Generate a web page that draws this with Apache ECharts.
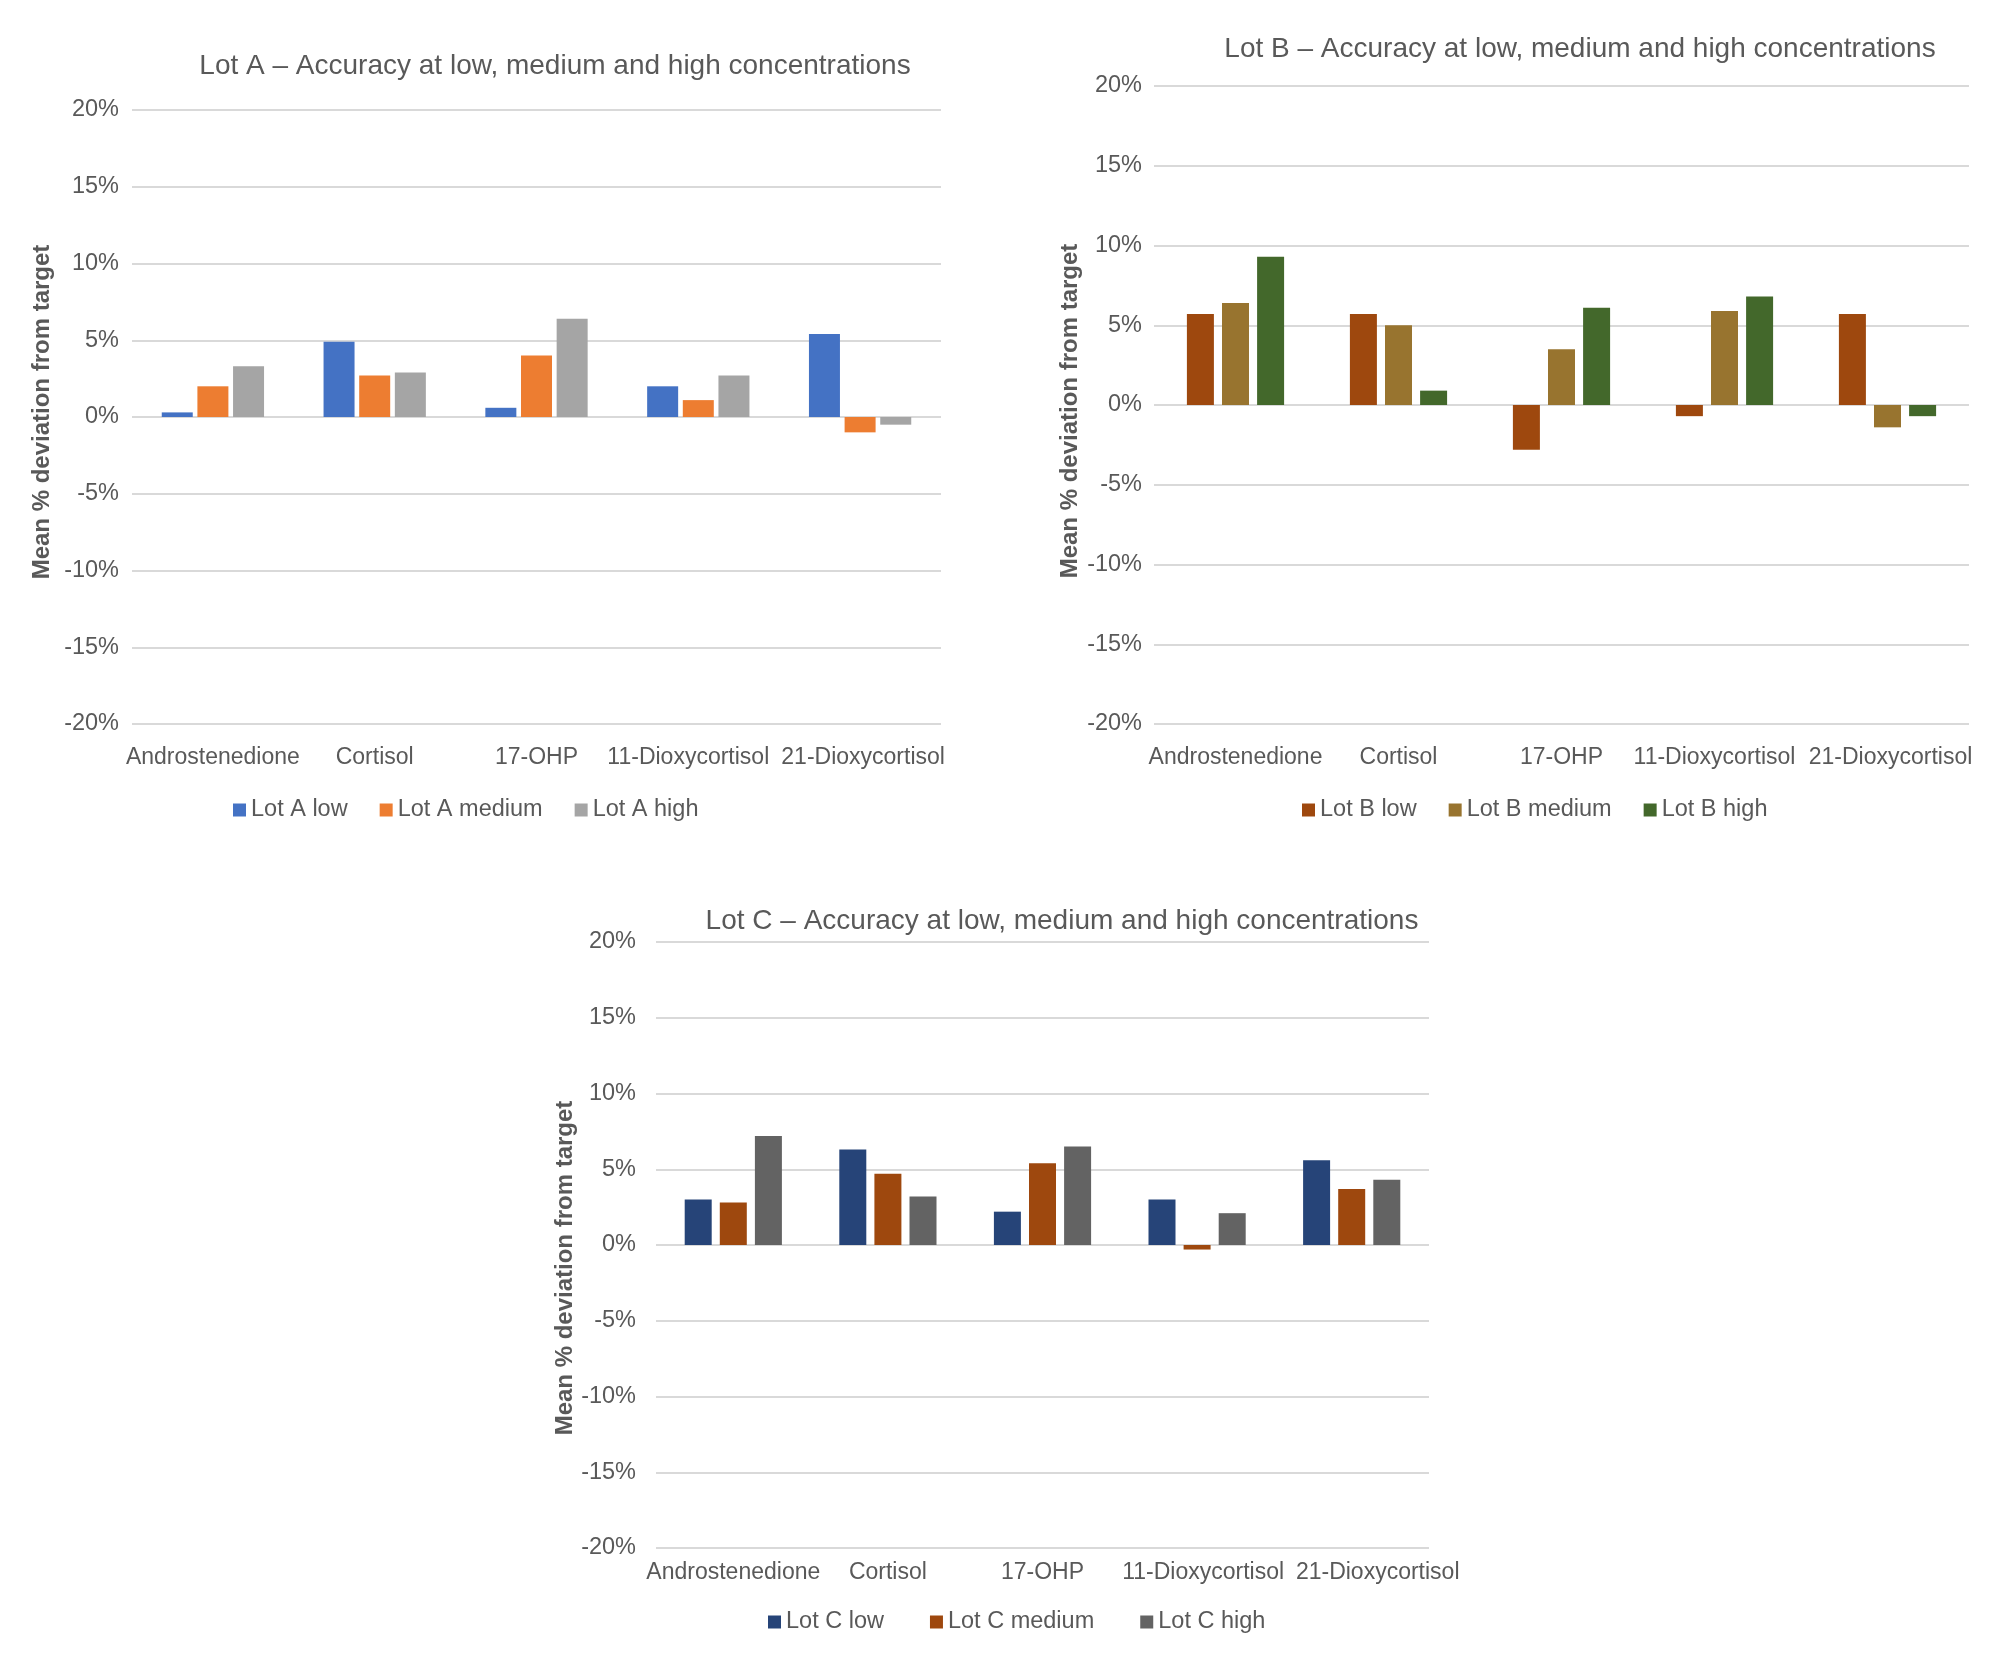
<!DOCTYPE html>
<html>
<head>
<meta charset="utf-8">
<title>Lot accuracy</title>
<script src="https://cdn.jsdelivr.net/npm/echarts@6/dist/echarts.min.js"></script>
<style>
    html, body { margin: 0; padding: 0; background: #fff; }
    #chart { width: 2000px; height: 1670px; }
</style>
</head>
<body>
<div id="chart"></div>
<script>
// 数据
const categories = ['Androstenedione', 'Cortisol', '17-OHP', '11-Dioxycortisol', '21-Dioxycortisol'];
const yTicks = [-20, -15, -10, -5, 0, 5, 10, 15, 20];

const lotALow = [0.3, 4.9, 0.6, 2.0, 5.4];
const lotAMedium = [2.0, 2.7, 4.0, 1.1, -1.0];
const lotAHigh = [3.3, 2.9, 6.4, 2.7, -0.5];

const lotBLow = [5.7, 5.7, -2.8, -0.7, 5.7];
const lotBMedium = [6.4, 5.0, 3.5, 5.9, -1.4];
const lotBHigh = [9.3, 0.9, 6.1, 6.8, -0.7];

const lotCLow = [3.0, 6.3, 2.2, 3.0, 5.6];
const lotCMedium = [2.8, 4.7, 5.4, -0.3, 3.7];
const lotCHigh = [7.2, 3.2, 6.5, 2.1, 4.3];

// 颜色
const colors = {
    aLow: '#4472C4', aMed: '#ED7D31', aHigh: '#A5A5A5',
    bLow: '#9E480E', bMed: '#98742F', bHigh: '#43682B',
    cLow: '#264478', cMed: '#9E480E', cHigh: '#636363'
};

const textColor = '#595959';
const font = '"Liberation Sans", Arial, sans-serif';

// 每个面板的布局
const panels = [
    {
        title: 'Lot A \u2013 Accuracy at low, medium and high concentrations',
        titleX: 550, titleY: 47,
        grid: { left: 132, top: 110, width: 809, height: 614 },
        legendX: 228, legendY: 793, legendGap: 32,
        labelMargin: 22, yLabelMargin: 13, nameGap: 78, namePad: [0, 0, 0, 10],
        labelShift: [0, 0, 0, -10, 3],
        barWidth: 31, barGap: '15%',
        series: [
            { name: 'Lot A low', data: lotALow, color: colors.aLow },
            { name: 'Lot A medium', data: lotAMedium, color: colors.aMed },
            { name: 'Lot A high', data: lotAHigh, color: colors.aHigh }
        ]
    },
    {
        title: 'Lot B \u2013 Accuracy at low, medium and high concentrations',
        titleX: 1575, titleY: 30,
        grid: { left: 1154, top: 86, width: 815, height: 638 },
        legendX: 1297, legendY: 793, legendGap: 32,
        labelMargin: 22, yLabelMargin: 12, nameGap: 72, namePad: [0, 12, 0, 0],
        labelShift: [0, 0, 0, -10, 3],
        barWidth: 27, barGap: '30%',
        series: [
            { name: 'Lot B low', data: lotBLow, color: colors.bLow },
            { name: 'Lot B medium', data: lotBMedium, color: colors.bMed },
            { name: 'Lot B high', data: lotBHigh, color: colors.bHigh }
        ]
    },
    {
        title: 'Lot C \u2013 Accuracy at low, medium and high concentrations',
        titleX: 1057, titleY: 902,
        grid: { left: 656, top: 942, width: 773, height: 606 },
        legendX: 763, legendY: 1605, legendGap: 46,
        labelMargin: 13, yLabelMargin: 20, nameGap: 75, namePad: [0, 46, 0, 0],
        labelShift: [0, 0, 0, 6, 26],
        barWidth: 27, barGap: '30%',
        series: [
            { name: 'Lot C low', data: lotCLow, color: colors.cLow },
            { name: 'Lot C medium', data: lotCMedium, color: colors.cMed },
            { name: 'Lot C high', data: lotCHigh, color: colors.cHigh }
        ]
    }
];

const chart = echarts.init(document.getElementById('chart'));

const option = {
    backgroundColor: '#fff',
    animation: false,
    textStyle: { fontFamily: font, color: textColor },
    title: [],
    legend: [],
    grid: [],
    xAxis: [],
    yAxis: [],
    series: []
};

panels.forEach((p, i) => {
    option.title.push({
        text: p.title,
        left: p.titleX,
        top: p.titleY,
        textAlign: 'center',
        textStyle: { fontFamily: font, fontSize: 28, fontWeight: 'normal', color: textColor }
    });

    option.grid.push(Object.assign({ containLabel: false }, p.grid));

    // 长标签左右挪开，避免重叠（同 Excel 的排法）
    const catData = categories.map((c, k) => {
        const s = p.labelShift[k];
        if (!s) return c;
        const pad = s > 0 ? [0, 0, 0, s * 2] : [0, -s * 2, 0, 0];
        return { value: c, textStyle: { padding: pad } };
    });

    option.xAxis.push({
        type: 'category',
        gridIndex: i,
        data: catData,
        axisLine: { show: false, onZero: false },
        axisTick: { show: false },
        axisLabel: { color: textColor, fontSize: 23, margin: p.labelMargin, fontFamily: font, interval: 0 }
    });

    option.yAxis.push({
        type: 'value',
        gridIndex: i,
        min: yTicks[0],
        max: yTicks[yTicks.length - 1],
        interval: 5,
        name: 'Mean % deviation from target',
        nameLocation: 'middle',
        nameGap: p.nameGap,
        nameTextStyle: { fontFamily: font, fontSize: 24, fontWeight: 'bold', color: textColor, padding: p.namePad },
        axisLine: { show: false },
        axisTick: { show: false },
        splitLine: { lineStyle: { color: '#D9D9D9', width: 2 } },
        axisLabel: { color: textColor, fontSize: 23.5, margin: p.yLabelMargin, fontFamily: font, formatter: '{value}%' }
    });

    option.legend.push({
        left: p.legendX,
        top: p.legendY,
        itemWidth: 13,
        itemHeight: 13,
        itemGap: p.legendGap,
        icon: 'rect',
        data: p.series.map(s => s.name),
        textStyle: { fontFamily: font, fontSize: 23.5, color: textColor }
    });

    p.series.forEach(s => {
        option.series.push({
            name: s.name,
            type: 'bar',
            xAxisIndex: i,
            yAxisIndex: i,
            data: s.data,
            barWidth: p.barWidth,
            barGap: p.barGap,
            itemStyle: { color: s.color }
        });
    });
});

chart.setOption(option);
</script>
</body>
</html>
